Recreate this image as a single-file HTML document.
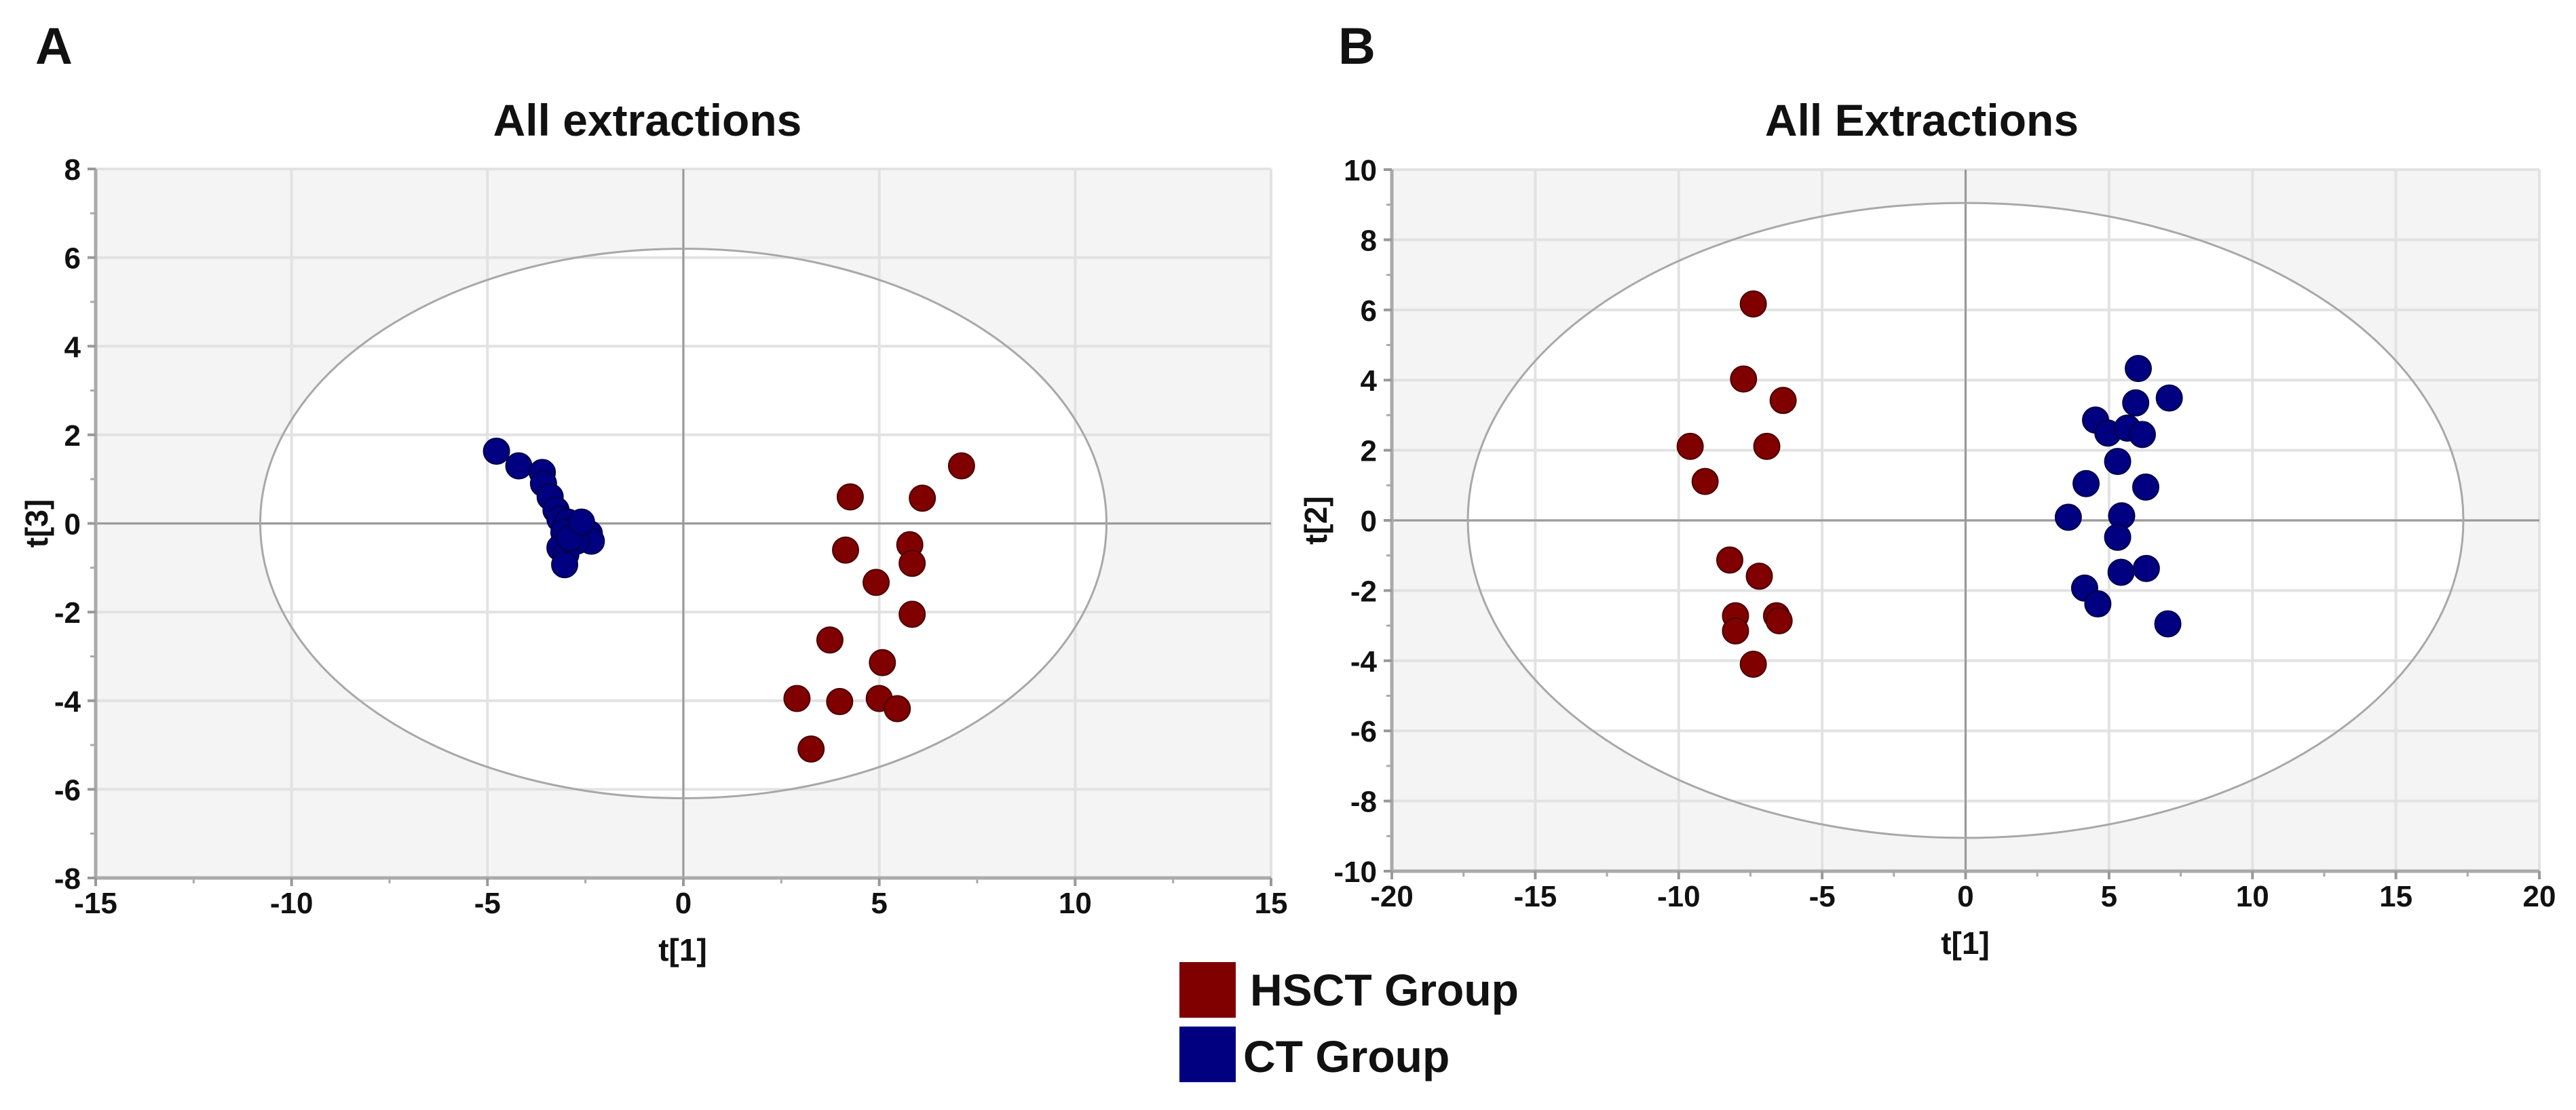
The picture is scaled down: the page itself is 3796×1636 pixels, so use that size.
<!DOCTYPE html>
<html><head><meta charset="utf-8"><style>
html,body{margin:0;padding:0;background:#fff;}
svg{display:block;}
text{font-family:"Liberation Sans",sans-serif;font-weight:bold;fill:#111;}
</style></head>
<body>
<svg id="fig" width="3796" height="1636" viewBox="0 0 3796 1636" xmlns="http://www.w3.org/2000/svg">
<text x="52" y="94" font-size="76">A</text>
<text x="1972" y="94" font-size="76">B</text>
<text x="954" y="200" font-size="66" text-anchor="middle">All extractions</text>
<text x="2832" y="200" font-size="66" text-anchor="middle">All Extractions</text>
<g id="panelA"></g>
<g id="panelB"></g>
<g>
<rect x="1738" y="1418" width="83" height="82" fill="#800000"/>
<text x="1842" y="1482" font-size="66">HSCT Group</text>
<rect x="1738" y="1513" width="83" height="82" fill="#000080"/>
<text x="1832" y="1580" font-size="66">CT Group</text>
</g>
</svg>
<script>
// Panel A data
const aXTicks = [-15,-10,-5,0,5,10,15];
const aYTicks = [-8,-6,-4,-2,0,2,4,6,8];
const aEllipse = [10.8, 6.2];
const aHsctX = [7.1,4.26,6.1,4.14,5.78,5.84,4.92,5.84,3.74,5.08,2.9,3.99,5.0,5.46,3.26];
const aHsctY = [1.3,0.6,0.57,-0.6,-0.48,-0.9,-1.33,-2.05,-2.63,-3.14,-3.95,-4.02,-3.95,-4.18,-5.09];
const aCtX = [-4.77,-4.2,-3.6,-3.57,-3.4,-3.25,-3.15,-2.95,-2.73,-2.4,-2.35,-2.73,-3.05,-3.15,-3.0,-3.03,-2.9,-2.6];
const aCtY = [1.63,1.3,1.15,0.9,0.6,0.3,0.1,0.03,-0.1,-0.23,-0.4,-0.4,-0.2,-0.55,-0.7,-0.93,-0.33,0.03];
// Panel B data
const bXTicks = [-20,-15,-10,-5,0,5,10,15,20];
const bYTicks = [-10,-8,-6,-4,-2,0,2,4,6,8,10];
const bEllipse = [17.35, 9.05];
const bHsctX = [-7.4,-7.74,-6.36,-9.6,-6.93,-9.08,-8.22,-7.19,-8.02,-8.02,-6.59,-6.5,-7.4];
const bHsctY = [6.17,4.03,3.42,2.11,2.11,1.11,-1.13,-1.59,-2.72,-3.15,-2.72,-2.86,-4.1];
const bCtX = [6.02,7.1,5.93,4.53,4.96,5.64,6.16,5.3,4.2,6.28,3.58,5.44,5.3,5.42,6.3,4.15,4.61,7.05];
const bCtY = [4.33,3.49,3.35,2.86,2.49,2.63,2.45,1.68,1.05,0.95,0.09,0.13,-0.48,-1.48,-1.37,-1.93,-2.38,-2.95];

const NS = 'http://www.w3.org/2000/svg';
function mk(tag, attrs, parent){
  const e = document.createElementNS(NS, tag);
  for (const k in attrs) e.setAttribute(k, attrs[k]);
  parent.appendChild(e);
  return e;
}
function drawPanel(g, cfg){
  const {L,R,T,B,xt,yt,ell,hx,hy,cx,cy,yLab,xLabX,yLabX,prefix} = cfg;
  const x0=xt[0], x1=xt[xt.length-1], y0=yt[0], y1=yt[yt.length-1];
  const sx = v => L + (v-x0)/(x1-x0)*(R-L);
  const sy = v => B - (v-y0)/(y1-y0)*(B-T);
  const bg = mk('rect',{x:L,y:T,width:R-L,height:B-T,fill:'#f4f4f4'},g);
  
  
  const el = mk('ellipse',{cx:sx(0),cy:sy(0),rx:sx(ell[0])-sx(0),ry:sy(0)-sy(ell[1]),fill:'#fff',stroke:'none'},g);
  
  
  xt.forEach(v=>{ if(v!==x0){ const l=mk('line',{x1:sx(v),x2:sx(v),y1:T,y2:B,stroke:'#e2e2e2','stroke-width':4},g);
    
     }});
  yt.forEach(v=>{ if(v!==y0){ const l=mk('line',{x1:L,x2:R,y1:sy(v),y2:sy(v),stroke:'#e2e2e2','stroke-width':4},g);
    
     }});
  const zx = mk('line',{x1:sx(0),x2:sx(0),y1:T,y2:B,stroke:'#9a9a9a','stroke-width':3},g);
  
  
  const zy = mk('line',{x1:L,x2:R,y1:sy(0),y2:sy(0),stroke:'#9a9a9a','stroke-width':3},g);
  
  
  const eo = mk('ellipse',{cx:sx(0),cy:sy(0),rx:sx(ell[0])-sx(0),ry:sy(0)-sy(ell[1]),fill:'none',stroke:'#a8a8a8','stroke-width':3},g);
  
  
  const ax = mk('line',{x1:L,x2:R,y1:B,y2:B,stroke:'#aaa','stroke-width':5},g);
  
  
  const ay = mk('line',{x1:L,x2:L,y1:T,y2:B,stroke:'#aaa','stroke-width':5},g);
  
  
  const xStep = xt[1]-xt[0], yStep = yt[1]-yt[0];
  for(let i=0;i<xt.length;i++){
    const v=xt[i];
    const tk = mk('line',{x1:sx(v),x2:sx(v),y1:B,y2:B+12,stroke:'#999','stroke-width':4},g);
    
    
    if(i<xt.length-1){ const m = mk('line',{x1:sx(v+xStep/2),x2:sx(v+xStep/2),y1:B,y2:B+8,stroke:'#aaa','stroke-width':3},g);
      
       }
    const t = mk('text',{x:sx(v),y:B+52,'font-size':44,'text-anchor':'middle'},g);
    t.textContent = String(v);
    
    
  }
  for(let i=0;i<yt.length;i++){
    const v=yt[i];
    const tk = mk('line',{x1:L-12,x2:L,y1:sy(v),y2:sy(v),stroke:'#999','stroke-width':4},g);
    
    
    if(i<yt.length-1){ const m = mk('line',{x1:L-8,x2:L,y1:sy(v+yStep/2),y2:sy(v+yStep/2),stroke:'#aaa','stroke-width':3},g);
      
       }
    const t = mk('text',{x:L-22,y:sy(v)+16,'font-size':44,'text-anchor':'end'},g);
    t.textContent = String(v);
    
    
  }
  const xl = mk('text',{x:xLabX,y:B+122,'font-size':46,'text-anchor':'middle'},g);
  xl.textContent='t[1]';
  
  
  const yl = mk('text',{x:0,y:0,'font-size':46,'text-anchor':'middle',transform:'translate('+(yLabX)+','+sy(0)+') rotate(-90)'},g);
  yl.textContent=yLab;
  
  
  for(let i=0;i<hx.length;i++){
    const c = mk('circle',{cx:sx(hx[i]),cy:sy(hy[i]),r:19,fill:'#800000',stroke:'#4a0000','stroke-width':2},g);
    
    
  }
  for(let i=0;i<cx.length;i++){
    const c = mk('circle',{cx:sx(cx[i]),cy:sy(cy[i]),r:19,fill:'#000080',stroke:'#00004a','stroke-width':2},g);
    
    
  }
}
drawPanel(document.getElementById('panelA'),{L:141,R:1873,T:249,B:1294,xt:aXTicks,yt:aYTicks,ell:aEllipse,hx:aHsctX,hy:aHsctY,cx:aCtX,cy:aCtY,yLab:'t[3]',xLabX:1006,yLabX:70,prefix:'panel-a'});
drawPanel(document.getElementById('panelB'),{L:2051,R:3742,T:250,B:1284,xt:bXTicks,yt:bYTicks,ell:bEllipse,hx:bHsctX,hy:bHsctY,cx:bCtX,cy:bCtY,yLab:'t[2]',xLabX:2896,yLabX:1955,prefix:'panel-b'});
</script>
</body></html>
